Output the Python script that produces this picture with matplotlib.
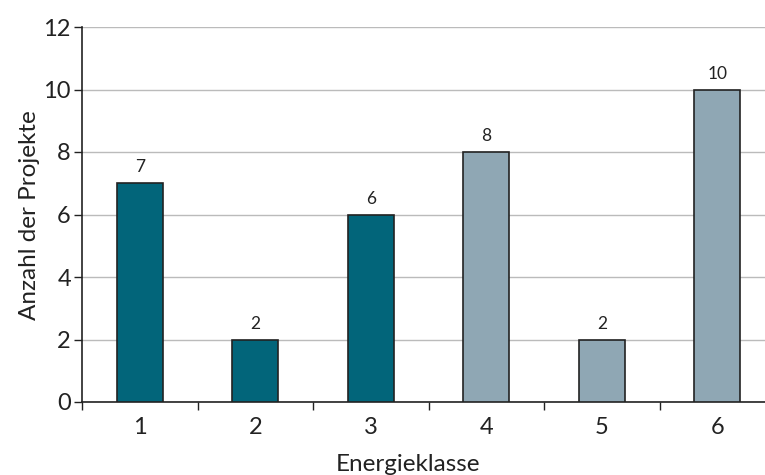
import matplotlib

matplotlib.use("Agg")
import matplotlib.pyplot as plt
import numpy as np

classes = [1, 2, 3, 4, 5, 6]
counts = [7, 2, 6, 8, 2, 10]
colors = ["#02657a", "#02657a", "#02657a", "#8fa7b4", "#8fa7b4", "#8fa7b4"]
y_ticks = [0, 2, 4, 6, 8, 10, 12]

plt.rcParams["font.family"] = ["Lato", "DejaVu Sans"]
text_color = "#222222"

fig = plt.figure(figsize=(7.65, 4.75), dpi=100)
ax = fig.add_axes([82 / 765, 1 - 402 / 475, 693 / 765, 375 / 475])

x = np.arange(len(classes))
ax.bar(x, counts, width=0.4, color=colors, edgecolor="#222222", linewidth=1.2, zorder=3)
for xi, c in zip(x, counts):
    ax.text(xi, c + 0.25, str(c), ha="center", va="bottom", fontsize=12.5, color=text_color)

ax.set_xlim(-0.5, len(classes) - 0.5)
ax.set_ylim(0, 12)
ax.set_yticks(y_ticks)
ax.set_yticklabels([str(v) for v in y_ticks], fontsize=17, color=text_color)
ax.yaxis.grid(True, color="#bbbbbb", linewidth=1.0, zorder=0)
ax.set_axisbelow(True)

# category labels sit centred, tick marks sit on the category boundaries
ax.set_xticks(x)
ax.set_xticklabels([str(c) for c in classes], fontsize=17, color=text_color)
ax.tick_params(axis="x", which="major", length=0, pad=11)
ax.set_xticks(np.arange(-0.5, len(classes) - 0.5, 1.0), minor=True)
ax.tick_params(axis="x", which="minor", length=6, width=1.0, color="#222222", direction="out")
ax.tick_params(axis="y", length=6, width=1.0, color="#222222", direction="out", pad=2)

for side in ("top", "right"):
    ax.spines[side].set_visible(False)
for side in ("left", "bottom"):
    ax.spines[side].set_color("#222222")
    ax.spines[side].set_linewidth(1.2)

ax.set_xlabel("Energieklasse", fontsize=17.5, color=text_color)
ax.set_ylabel("Anzahl der Projekte", fontsize=17.5, color=text_color)
ax.xaxis.set_label_coords((408 - 82) / 693, -52 / 375)
ax.yaxis.set_label_coords(-(82 - 40) / 693, (402 - 215) / 375)

fig.savefig("out.png", dpi=100)
